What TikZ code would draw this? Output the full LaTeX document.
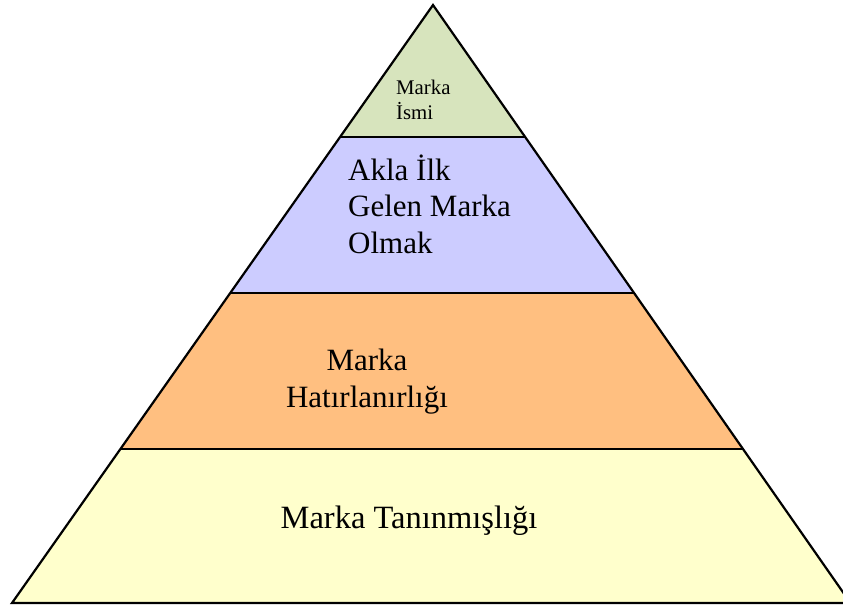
\documentclass[tikz,border=0pt]{standalone}
\usepackage{fontspec}
\setmainfont{Liberation Serif}
\definecolor{bandA}{HTML}{D7E4BD}
\definecolor{bandB}{HTML}{CCCCFF}
\definecolor{bandC}{HTML}{FFBF80}
\definecolor{bandD}{HTML}{FFFFCC}
\begin{document}
\begin{tikzpicture}[x=1pt,y=-1pt,
  band/.style={draw=black,line width=2.2pt,line join=miter},
  bigtext/.style={font=\fontsize{31}{36.5}\selectfont,inner sep=0pt,align=left},
  smalltext/.style={font=\fontsize{20.8}{25}\selectfont,inner sep=0pt,align=left}]
\useasboundingbox (0,0) rectangle (843,607);
\coordinate (apex) at (433,5);
\coordinate (l1) at (340,137); \coordinate (r1) at (525,137);
\coordinate (l2) at (230,293); \coordinate (r2) at (634,293);
\coordinate (l3) at (120,449); \coordinate (r3) at (743,449);
\coordinate (l4) at (12,603);  \coordinate (r4) at (850.5,603);
\fill[bandD] (l3) -- (r3) -- (r4) -- (l4) -- cycle;
\fill[bandC] (l2) -- (r2) -- (r3) -- (l3) -- cycle;
\fill[bandB] (l1) -- (r1) -- (r2) -- (l2) -- cycle;
\fill[bandA] (apex) -- (r1) -- (l1) -- cycle;
\draw[band] (apex) -- (r4) -- (l4) -- cycle;
\draw[band] (l1) -- (r1);
\draw[band] (l2) -- (r2);
\draw[band] (l3) -- (r3);
\node[smalltext,anchor=base west] (isim) at (396,120) {Marka\\İsmi};
\node[bigtext,anchor=base west] (akla) at (348,253) {Akla İlk\\Gelen Marka\\Olmak};
\node[bigtext,align=center,anchor=base] (hatir) at (367,407) {Marka\\Hatırlanırlığı};
\node[bigtext,font=\fontsize{32.5}{38}\selectfont,anchor=base] (tanin) at (409,528) {Marka Tanınmışlığı};
\end{tikzpicture}
\end{document}
